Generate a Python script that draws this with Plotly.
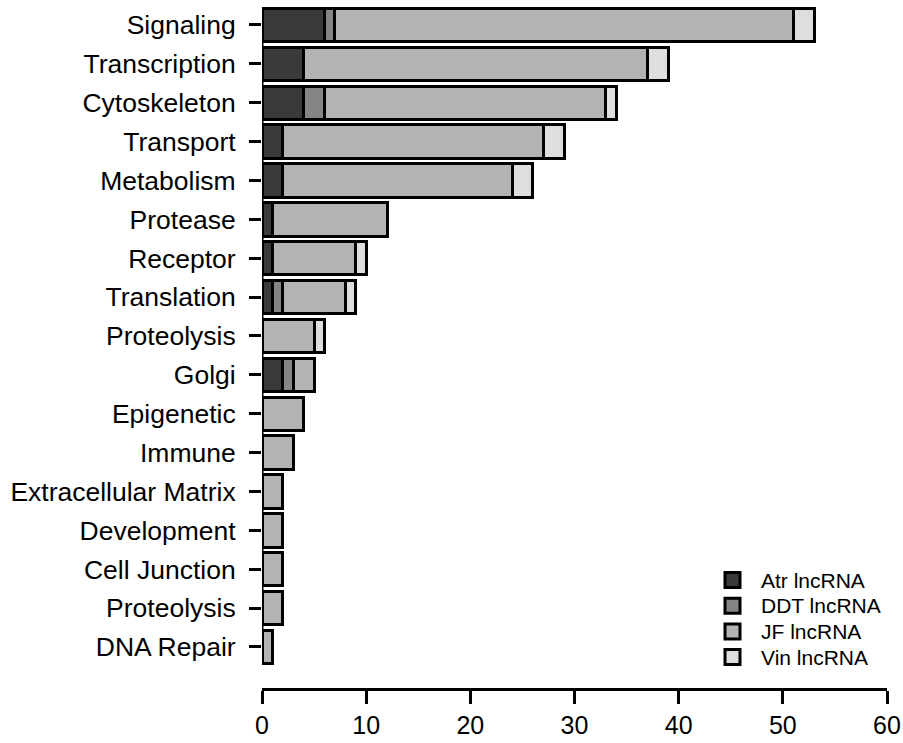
import plotly.graph_objects as go

categories = ["Signaling", "Transcription", "Cytoskeleton", "Transport", "Metabolism",
              "Protease", "Receptor", "Translation", "Proteolysis", "Golgi",
              "Epigenetic", "Immune", "Extracellular Matrix", "Development",
              "Cell Junction", "Proteolysis", "DNA Repair"]

atr = [6, 4, 4, 2, 2, 1, 1, 1, 0, 2, 0, 0, 0, 0, 0, 0, 0]
ddt = [1, 0, 2, 0, 0, 0, 0, 1, 0, 1, 0, 0, 0, 0, 0, 0, 0]
jf  = [44, 33, 27, 25, 22, 11, 8, 6, 5, 2, 4, 3, 2, 2, 2, 2, 1]
vin = [2, 2, 1, 2, 2, 0, 1, 1, 1, 0, 0, 0, 0, 0, 0, 0, 0]

series_names = ["Atr lncRNA", "DDT lncRNA", "JF lncRNA", "Vin lncRNA"]
series_values = [atr, ddt, jf, vin]
series_colors = ["#3a3a3a", "#858585", "#b3b3b3", "#dedede"]

x_ticks = [0, 10, 20, 30, 40, 50, 60]

ypos = list(range(len(categories)))
FONT = "Liberation Sans, Arial, Helvetica, sans-serif"

W, H = 903, 743
ML, MR, MT, MB = 262, 16, 5, 55
PW, PH = W - ML - MR, H - MT - MB


def px_to_paper_x(px):
    return (px - ML) / PW


def px_to_paper_y(py):
    return (H - MB - py) / PH


fig = go.Figure()
for name, vals, col in zip(series_names, series_values, series_colors):
    fig.add_trace(go.Bar(
        y=ypos,
        x=[v if v else None for v in vals],
        orientation="h",
        name=name,
        width=0.86,
        marker=dict(color=col, line=dict(color="black", width=3)),
        cliponaxis=False,
        showlegend=False,
        hoverinfo="x+name",
    ))

# y axis line from first to last category (R-style axis)
fig.add_shape(type="line", xref="x", yref="y", x0=0, x1=0,
              y0=ypos[0], y1=ypos[-1], line=dict(color="black", width=3))

# legend drawn R-style: bordered squares + labels
leg_top_center = 580
leg_step = 25.7
for i, (name, col) in enumerate(zip(series_names, series_colors)):
    cy = leg_top_center + i * leg_step
    fig.add_shape(type="rect", xref="paper", yref="paper",
                  x0=px_to_paper_x(725), x1=px_to_paper_x(740),
                  y0=px_to_paper_y(cy + 7.5), y1=px_to_paper_y(cy - 7.5),
                  fillcolor=col, line=dict(color="black", width=3))
    fig.add_annotation(xref="paper", yref="paper",
                       x=px_to_paper_x(759), y=px_to_paper_y(cy),
                       xanchor="left", yanchor="middle", showarrow=False,
                       text=name, font=dict(size=21, family=FONT, color="black"))

fig.update_layout(
    width=W, height=H,
    barmode="stack",
    plot_bgcolor="white", paper_bgcolor="white",
    margin=dict(l=ML, r=MR, t=MT, b=MB, autoexpand=False),
    font=dict(family=FONT, color="black"),
    showlegend=False,
)

fig.update_xaxes(
    range=[0, 60],
    tickvals=x_ticks,
    ticktext=[str(t) for t in x_ticks],
    ticks="outside", ticklen=13, tickwidth=3, tickcolor="black",
    showline=True, linewidth=3, linecolor="black",
    showgrid=False, zeroline=False, automargin=False,
    tickfont=dict(size=25, family=FONT, color="black"),
    ticklabelstandoff=0,
)

fig.update_yaxes(
    range=[17.055, -0.514],
    tickvals=ypos,
    ticktext=categories,
    ticks="outside", ticklen=12, tickwidth=3, tickcolor="black",
    showline=False, showgrid=False, zeroline=False, automargin=False,
    tickfont=dict(size=26.5, family=FONT, color="black"),
    ticklabelstandoff=8,
)

fig.write_html("out.html")
